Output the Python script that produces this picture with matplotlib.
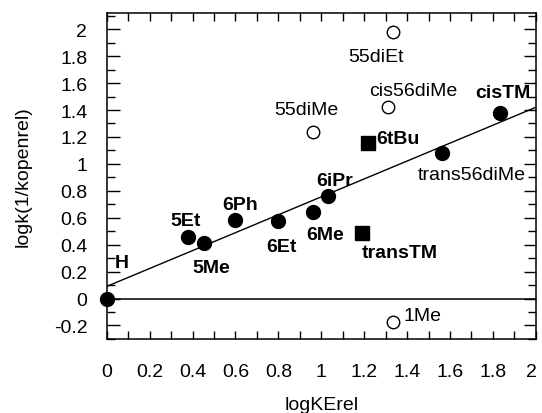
import matplotlib
matplotlib.use("Agg")
import matplotlib.pyplot as plt
import matplotlib.transforms as mtransforms
from matplotlib.ticker import MultipleLocator, FixedLocator, FuncFormatter

plt.rcParams['font.family'] = ['Liberation Sans', 'DejaVu Sans']
plt.rcParams['font.size'] = 14

# filled circles (fitted set)
fill_names = ['H', '5Et', '5Me', '6Ph', '6Et', '6Me', '6iPr', 'trans56diMe', 'cisTM']
fill_x = [0.0, 0.38, 0.455, 0.60, 0.80, 0.96, 1.03, 1.565, 1.835]
fill_y = [0.0, 0.455, 0.41, 0.585, 0.575, 0.64, 0.76, 1.08, 1.375]
fill_bold = [True, True, True, True, True, True, True, False, True]

# filled squares
sq_names = ['6tBu', 'transTM']
sq_x = [1.22, 1.19]
sq_y = [1.155, 0.49]

# open circles
open_names = ['55diEt', 'cis56diMe', '55diMe', '1Me']
open_x = [1.335, 1.31, 0.96, 1.335]
open_y = [1.98, 1.42, 1.24, -0.175]

# regression line end points
fit_x = [0.0, 2.0]
fit_y = [0.09, 1.42]

xticks = [0, 0.2, 0.4, 0.6, 0.8, 1, 1.2, 1.4, 1.6, 1.8, 2]
yticks = [-0.2, 0, 0.2, 0.4, 0.6, 0.8, 1, 1.2, 1.4, 1.6, 1.8, 2]

# label offsets in points
offsets = {
    'H': (10.5, 26), '5Et': (-2, 12), '5Me': (5, -17.5), '6Ph': (3, 11.3),
    '6Et': (2.4, -18.4), '6Me': (9, -16), '6iPr': (5.3, 11.5),
    'trans56diMe': (21.4, -15.1), 'cisTM': (1.7, 15.1),
    '6tBu': (21, 2.9), 'transTM': (27, -14.4),
    '55diEt': (-12.1, -17.6), 'cis56diMe': (18, 12), '55diMe': (-4.8, 16),
    '1Me': (21.4, 4.8),
}

fig = plt.figure(figsize=(5.42, 4.14), dpi=100)
ax = fig.add_axes([0.197, 0.179, 0.7915, 0.787])

ax.axhline(0, color='black', lw=1.1, zorder=1)
ax.plot(fit_x, fit_y, color='black', lw=1.0, zorder=2)

ax.plot(fill_x, fill_y, 'o', color='black', ms=10, zorder=3, clip_on=False)
ax.plot(sq_x, sq_y, 's', color='black', ms=9.5, zorder=3)
ax.plot(open_x, open_y, 'o', mfc='white', mec='black', mew=1.0, ms=9, zorder=3)

for n, x, y, b in zip(fill_names, fill_x, fill_y, fill_bold):
    ax.annotate(n, (x, y), xytext=offsets[n], textcoords='offset points',
                ha='center', va='center', fontweight='bold' if b else 'normal')
for n, x, y in zip(sq_names, sq_x, sq_y):
    ax.annotate(n, (x, y), xytext=offsets[n], textcoords='offset points',
                ha='center', va='center', fontweight='bold')
for n, x, y in zip(open_names, open_x, open_y):
    ax.annotate(n, (x, y), xytext=offsets[n], textcoords='offset points',
                ha='center', va='center')

ax.set_xlim(0, 2)
ax.set_ylim(-0.3, 2.12)

ax.xaxis.set_major_locator(FixedLocator(xticks))
ax.xaxis.set_minor_locator(MultipleLocator(0.1))
ax.yaxis.set_major_locator(FixedLocator(yticks))
ax.yaxis.set_minor_locator(MultipleLocator(0.1))
ax.xaxis.set_major_formatter(FuncFormatter(lambda v, p: f'{v:g}'))
ax.yaxis.set_major_formatter(FuncFormatter(lambda v, p: f'{v:g}'))

ax.tick_params(axis='x', which='both', direction='in', top=True, length=6, width=1.0, pad=17)
ax.tick_params(axis='y', which='major', direction='in', right=True, length=9, width=1.0, pad=14)
ax.tick_params(axis='y', which='minor', direction='in', right=True, length=6, width=1.0)

for s in ax.spines.values():
    s.set_linewidth(1.1)

ax.set_xlabel('logKErel', labelpad=12)
ax.set_ylabel('logk(1/kopenrel)', labelpad=16)

# nudge the last x tick label so it stays inside the figure
fig.canvas.draw()
last = ax.get_xticklabels()[-1]
last.set_transform(last.get_transform() +
                   mtransforms.ScaledTranslation(-3 / 72, 0, fig.dpi_scale_trans))

fig.savefig('out.png', dpi=100)
